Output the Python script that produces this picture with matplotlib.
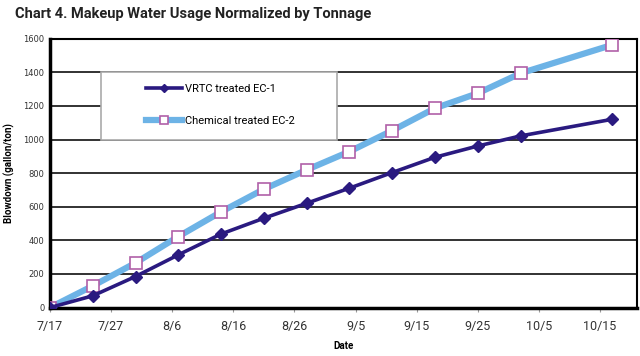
import numpy as np
import pandas as pd
import matplotlib
matplotlib.use("Agg")
import matplotlib.pyplot as plt
from matplotlib.patches import Rectangle

# weekly readings (month/day)
dates = ["7/17", "7/24", "7/31", "8/7", "8/14", "8/21", "8/28",
         "9/4", "9/11", "9/18", "9/25", "10/2", "10/17"]
vrtc = [0, 70, 185, 314, 438, 532, 621, 711, 804, 895, 962, 1022, 1121]
chem = [0, 129, 266, 423, 570, 705, 820, 929, 1054, 1187, 1276, 1395, 1564]

tick_dates = ["7/17", "7/27", "8/6", "8/16", "8/26", "9/5",
              "9/15", "9/25", "10/5", "10/15"]
yticks = [0, 200, 400, 600, 800, 1000, 1200, 1400, 1600]

names = ["VRTC treated EC-1", "Chemical treated EC-2"]

def to_date(s):
    return pd.to_datetime("2004/" + s, format="%Y/%m/%d")

x = [to_date(d) for d in dates]
xt = [to_date(d) for d in tick_dates]

NARROW = "Roboto"

fig = plt.figure(figsize=(6.4, 3.56), dpi=100)
ax = fig.add_axes([0.078, 0.136, 0.917, 0.755])

ax.plot(x, chem, "-", color="#6db3e6", lw=4.5, marker="s", markersize=9,
        markerfacecolor="white", markeredgecolor="#b060a8", markeredgewidth=1.2,
        label=names[1], zorder=3)
ax.plot(x, vrtc, "-", color="#2a1a80", lw=2.6, marker="D", markersize=6.5,
        markerfacecolor="#2a1a80", markeredgecolor="#2a1a80",
        label=names[0], zorder=4)

ax.set_xlim(to_date("7/17"), to_date("10/21"))
ax.set_ylim(0, 1600)
ax.set_yticks(yticks)
ax.set_xticks(xt)
ax.set_xticklabels(tick_dates)
ax.tick_params(axis="x", labelsize=9, length=3, color="#999999", pad=6,
               labelcolor="#333333")
ax.tick_params(axis="y", labelsize=6, length=0, pad=4, labelcolor="#333333")
for lab in ax.get_xticklabels():
    lab.set_family(NARROW)

ax.yaxis.grid(True, color="#222222", lw=1.3)
ax.set_axisbelow(True)
for s in ["left", "bottom"]:
    ax.spines[s].set_linewidth(2.5)
for s in ["top", "right"]:
    ax.spines[s].set_linewidth(1.5)

ax.set_ylabel("Blowdown (gallon/ton)", fontsize=7, fontweight="bold",
              family=NARROW, labelpad=6)
ax.set_xlabel("Date", fontsize=7, fontweight="bold", family=NARROW, labelpad=6)

# legend box (white, hides the grid) with entries centred inside
box = Rectangle((0.0875, 0.624), 0.4025, 0.253, transform=ax.transAxes,
                facecolor="white", edgecolor="#aaaaaa", lw=1.2, zorder=2)
ax.add_patch(box)

h, l = ax.get_legend_handles_labels()
leg = ax.legend(h[::-1], l[::-1], loc="center",
                bbox_to_anchor=(0.29, 0.755), frameon=False,
                prop={"family": NARROW, "size": 8}, handlelength=3.3,
                handletextpad=0.2, labelspacing=2.0, markerscale=0.7)
leg.set_zorder(5)

fig.text(0.023, 0.962, "Chart 4. Makeup Water Usage Normalized by Tonnage",
         fontsize=10.5, fontweight="bold", family=NARROW, va="center",
         color="#222222")

plt.savefig("out.png", dpi=100)
